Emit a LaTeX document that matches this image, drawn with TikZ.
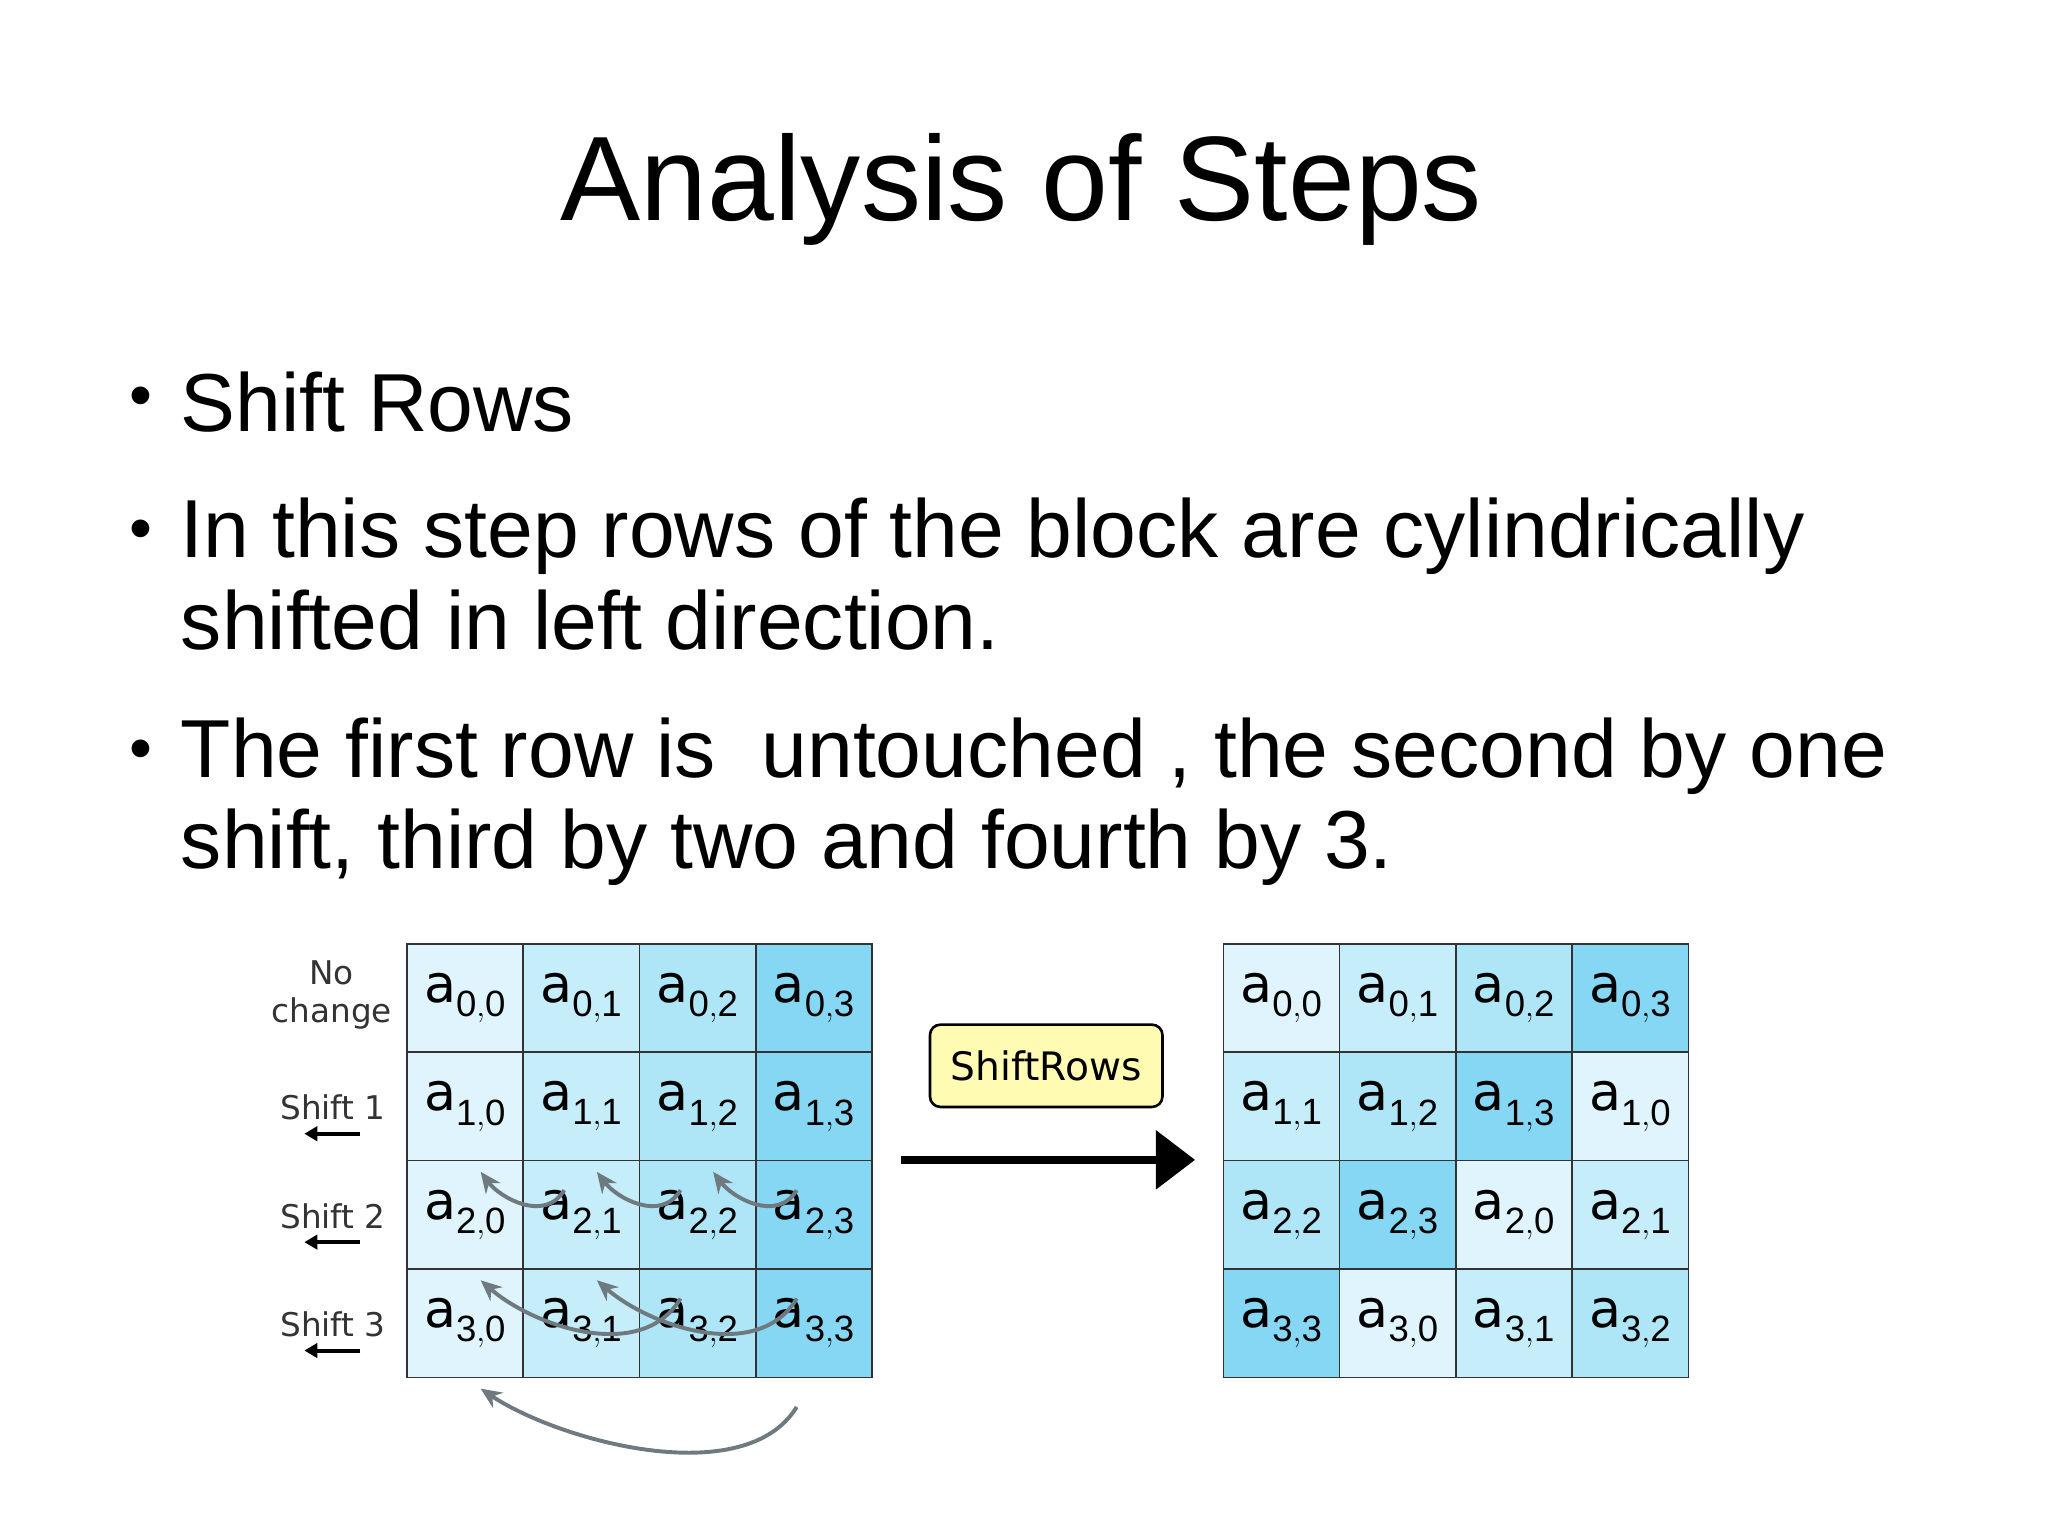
\documentclass[tikz,border=0pt]{standalone}
\usepackage{fontspec}
\setmainfont{Liberation Sans}
\newfontfamily\vf{DejaVu Sans}
\usetikzlibrary{arrows.meta}
\definecolor{cA}{HTML}{DFF4FC}
\definecolor{cB}{HTML}{C6EDFA}
\definecolor{cC}{HTML}{AEE6F8}
\definecolor{cD}{HTML}{86D7F4}
\definecolor{curv}{HTML}{6E7A80}
\begin{document}
\begin{tikzpicture}[x=1pt,y=-1pt,
  cell/.style={draw=black!80,line width=1.2pt,minimum width=89pt,minimum height=83pt,inner sep=0pt,anchor=north west,font=\vf\fontsize{40}{40}\selectfont},
  body/.style={anchor=west,align=left,font=\fontsize{63}{70}\selectfont},
  lab/.style={font=\vf\fontsize{25}{29}\selectfont,align=center,text=black!80},
  sarr/.style={-{Triangle[length=10pt,width=11pt]},line width=3pt},
  carr/.style={curv,line width=3pt,-{Stealth[length=16pt,width=14pt]}}]
\useasboundingbox (0,0) rectangle (1568,1174);
\fill[white] (0,0) rectangle (1568,1174);
\node (title) at (782,145) {\fontsize{92}{100}\selectfont Analysis of Steps};
\foreach \y/\n in {308/b1,410/b2,578/b3}{\node (\n) at (108,\y) {\fontsize{50}{50}\selectfont\textbullet};}
\node[body] (t1) at (135,308) {Shift Rows};
\node[body,anchor=north west] (t2) at (135,378) {In this step rows of the block are cylindrically\\shifted in left direction.};
\node[body,anchor=north west] (t3) at (135,546) {The first row is\ \ untouched , the second by one\\shift, third by two and fourth by 3.};
% left grid
\def\col#1{\ifcase#1 cA\or cB\or cC\or cD\fi}
\foreach \r in {0,...,3}{\foreach \c in {0,...,3}{
  \pgfmathtruncatemacro{\xx}{311+89*\c}\pgfmathtruncatemacro{\yy}{722+83*\r}
  \node[cell,fill=\col{\c}] (L\r\c) at (\xx,\yy) {a$_{\mathrm{\vf\fontsize{24}{24}\selectfont \r,\c}}$};}}
% right grid
\foreach \r in {0,...,3}{\foreach \c in {0,...,3}{
  \pgfmathtruncatemacro{\xx}{936+89*\c}\pgfmathtruncatemacro{\yy}{722+83*\r}
  \pgfmathtruncatemacro{\s}{mod(\c+\r,4)}
  \node[cell,fill=\col{\s}] (R\r\c) at (\xx,\yy) {a$_{\mathrm{\vf\fontsize{24}{24}\selectfont \r,\s}}$};}}
% row labels
\node[lab] (n0) at (254,762) {No\\change};
\node[lab] (n1) at (255,848) {Shift 1};
\node[lab] (n2) at (255,931) {Shift 2};
\node[lab] (n3) at (255,1014) {Shift 3};
\foreach \i/\y in {1/868,2/951,3/1034}{
  \coordinate (s\i a) at (276,\y); \coordinate (s\i b) at (233,\y);
  \draw[sarr] (s\i a) -- (s\i b);}
% shiftrows box and arrow
\node[draw=black,line width=2pt,rounded corners=8pt,fill=yellow!30,minimum width=178pt,minimum height=63pt,font=\vf\fontsize{30}{30}\selectfont] (box) at (801,816) {ShiftRows};
\coordinate (ma) at (690,888);
\coordinate (mb) at (915,888);
\draw[line width=6pt,-{Triangle[length=30pt,width=44pt]}] (ma) -- (mb);
% curved arrows
\draw[carr] ([xshift=32pt,yshift=-22pt]L11.south west) .. controls +(-15,25) and +(15,20) .. ([xshift=57pt,yshift=-8pt]L10.south west);
\draw[carr] ([xshift=32pt,yshift=-22pt]L12.south west) .. controls +(-15,25) and +(15,20) .. ([xshift=57pt,yshift=-8pt]L11.south west);
\draw[carr] ([xshift=32pt,yshift=-22pt]L13.south west) .. controls +(-15,25) and +(15,20) .. ([xshift=57pt,yshift=-8pt]L12.south west);
\draw[carr] ([xshift=32pt,yshift=-22pt]L22.south west) .. controls +(-30,50) and +(40,35) .. ([xshift=57pt,yshift=-8pt]L20.south west);
\draw[carr] ([xshift=32pt,yshift=-22pt]L23.south west) .. controls +(-30,50) and +(40,35) .. ([xshift=57pt,yshift=-8pt]L21.south west);
\draw[carr] ([xshift=32pt,yshift=-22pt]L33.south west) .. controls +(-40,65) and +(60,40) .. ([xshift=57pt,yshift=-8pt]L30.south west);
\end{tikzpicture}
\end{document}
